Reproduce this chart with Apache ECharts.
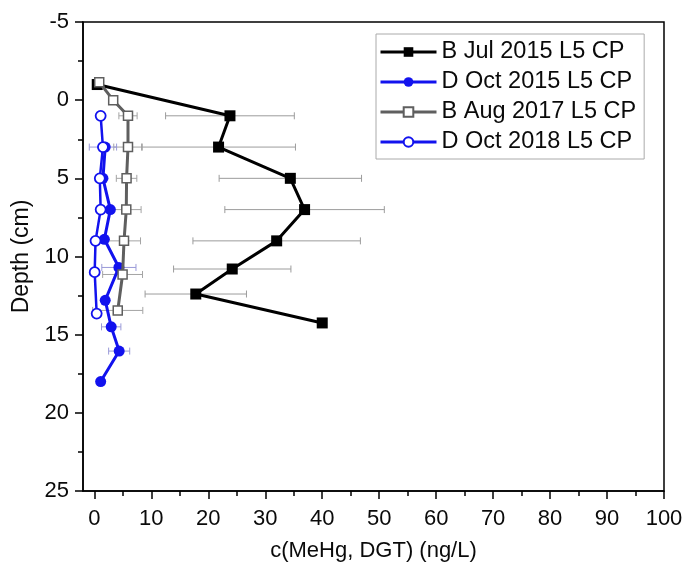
<!DOCTYPE html>
<html>
<head>
<meta charset="utf-8">
<script src="https://cdn.jsdelivr.net/npm/echarts@6/dist/echarts.min.js"></script>
<style>
  html, body { margin: 0; padding: 0; background: #fff; }
  #chart { width: 686px; height: 568px; }
</style>
</head>
<body>
<div id="chart"></div>
<script>
// MeHg concentration (DGT) profiles with depth, four campaigns at L5 CP
const seriesNames = ['B Jul 2015 L5 CP', 'D Oct 2015 L5 CP', 'B Aug 2017 L5 CP', 'D Oct 2018 L5 CP'];

const depthJul15 = [-1.0, 1.0, 3.0, 5.0, 7.0, 9.0, 10.8, 12.4, 14.25];
const cJul15     = [0.5, 23.8, 21.8, 34.4, 36.9, 32.0, 24.2, 17.8, 40.0];
const errJul15   = [0, 11.3, 13.5, 12.5, 14.0, 14.7, 10.3, 8.9, 0];

const depthOct15 = [3.0, 5.0, 7.0, 8.9, 10.7, 12.8, 14.5, 16.05, 18.0];
const cOct15     = [1.9, 1.5, 2.8, 1.75, 4.3, 1.9, 2.95, 4.35, 1.1];
const errOct15   = [0, 0, 0, 0, 3.0, 0, 1.7, 1.85, 0];

const depthAug17 = [-1.15, 0.0, 1.0, 3.0, 5.0, 7.0, 9.0, 11.15, 13.45];
const cAug17     = [0.85, 3.3, 5.9, 5.9, 5.65, 5.6, 5.2, 4.95, 4.1];
const errAug17   = [0, 0, 1.6, 2.5, 1.8, 2.6, 2.9, 3.5, 4.4];

const depthOct18 = [1.0, 3.0, 5.0, 7.0, 9.0, 11.0, 13.65];
const cOct18     = [1.1, 1.5, 0.95, 1.1, 0.2, 0.05, 0.4];
const errOct18   = [0, 2.4, 0, 0, 0, 0, 0];

// Axis ticks
const xTicks      = [0, 10, 20, 30, 40, 50, 60, 70, 80, 90, 100];
const xMinorTicks = [5, 15, 25, 35, 45, 55, 65, 75, 85, 95];
const yTicks      = [-5, 0, 5, 10, 15, 20, 25];

const FONT = "'Liberation Sans', Arial, sans-serif";
const BLUE = '#1212ee';
const GREY = '#5f5f5f';
const TEXT = '#0a0a0a';

function points(xs, ys) {
  return xs.map((x, i) => [x, ys[i]]);
}
function errPoints(xs, ys, es) {
  const out = [];
  xs.forEach((x, i) => { if (es[i] > 0) out.push([x, ys[i], es[i]]); });
  return out;
}

// Horizontal error bars with end caps
function errorBarSeries(data, color) {
  return {
    type: 'custom',
    z: 1,
    silent: true,
    data: data,
    encode: { x: 0, y: 1 },
    renderItem: function (params, api) {
      const x = api.value(0), y = api.value(1), e = api.value(2);
      const p0 = api.coord([x - e, y]);
      const p1 = api.coord([x + e, y]);
      const h = 3.5;
      const style = { stroke: color, lineWidth: 1, fill: null };
      return {
        type: 'group',
        children: [
          { type: 'line', shape: { x1: p0[0], y1: p0[1], x2: p1[0], y2: p1[1] }, style: style },
          { type: 'line', shape: { x1: p0[0], y1: p0[1] - h, x2: p0[0], y2: p0[1] + h }, style: style },
          { type: 'line', shape: { x1: p1[0], y1: p1[1] - h, x2: p1[0], y2: p1[1] + h }, style: style }
        ]
      };
    }
  };
}

const chart = echarts.init(document.getElementById('chart'), null, { renderer: 'canvas' });

const option = {
  backgroundColor: '#fff',
  animation: false,
  textStyle: { fontFamily: FONT },
  grid: {
    left: 83, right: 22, top: 22, bottom: 77,
    show: true, borderColor: '#000', borderWidth: 1.5, backgroundColor: 'transparent'
  },
  legend: {
    orient: 'vertical',
    left: 376, top: 34,
    data: seriesNames,
    backgroundColor: '#fff',
    borderColor: '#aaaaaa',
    borderWidth: 1,
    borderRadius: 0,
    padding: [6, 8, 5, 3],
    itemGap: 6,
    itemWidth: 56,
    itemHeight: 12,
    lineStyle: { width: 3 },
    textStyle: { fontFamily: FONT, fontSize: 23.5, color: TEXT, lineHeight: 24 }
  },
  xAxis: [
    {
      type: 'value', min: -2, max: 100,
      name: 'c(MeHg, DGT) (ng/L)', nameLocation: 'middle', nameGap: 49,
      nameTextStyle: { fontFamily: FONT, fontSize: 22, color: TEXT },
      axisLine: { show: true, onZero: false, lineStyle: { color: '#000', width: 1.5 } },
      axisTick: { show: true, inside: false, length: 8, customValues: xTicks, lineStyle: { color: '#000', width: 1.5 } },
      axisLabel: { show: true, margin: 17, customValues: xTicks, fontFamily: FONT, fontSize: 22, color: TEXT },
      splitLine: { show: false }
    },
    {
      type: 'value', min: -2, max: 100, position: 'bottom',
      axisLine: { show: false, onZero: false },
      axisTick: { show: true, inside: false, length: 5, customValues: xMinorTicks, lineStyle: { color: '#000', width: 1.5 } },
      axisLabel: { show: false },
      splitLine: { show: false }
    }
  ],
  yAxis: {
    type: 'value', min: -5, max: 25, interval: 5, inverse: true,
    name: 'Depth (cm)', nameLocation: 'middle', nameGap: 44,
    nameTextStyle: { fontFamily: FONT, fontSize: 23, color: TEXT },
    axisLine: { show: true, onZero: false, lineStyle: { color: '#000', width: 1.5 } },
    axisTick: { show: true, inside: false, length: 8, lineStyle: { color: '#000', width: 1.5 } },
    minorTick: { show: true, splitNumber: 2, length: 5, lineStyle: { color: '#000', width: 1.5 } },
    axisLabel: {
      margin: 14, fontFamily: FONT, fontSize: 22, color: TEXT,
      formatter: function (v) { return yTicks.indexOf(v) >= 0 ? String(v) : ''; }
    },
    splitLine: { show: false },
    minorSplitLine: { show: false }
  },
  series: [
    errorBarSeries(errPoints(cJul15, depthJul15, errJul15), '#9c9c9c'),
    errorBarSeries(errPoints(cAug17, depthAug17, errAug17), '#a4a4a4'),
    errorBarSeries(errPoints(cOct15, depthOct15, errOct15), '#9a9ad8'),
    errorBarSeries(errPoints(cOct18, depthOct18, errOct18), '#9a9ad8'),
    {
      name: seriesNames[0], type: 'line', z: 3,
      data: points(cJul15, depthJul15),
      symbol: 'rect', symbolSize: 11,
      lineStyle: { color: '#000', width: 3 },
      itemStyle: { color: '#000' }
    },
    {
      name: seriesNames[1], type: 'line', z: 4,
      data: points(cOct15, depthOct15),
      symbol: 'circle', symbolSize: 11,
      lineStyle: { color: BLUE, width: 3 },
      itemStyle: { color: BLUE }
    },
    {
      name: seriesNames[2], type: 'line', z: 5,
      data: points(cAug17, depthAug17),
      symbol: 'rect', symbolSize: 9,
      lineStyle: { color: GREY, width: 3 },
      itemStyle: { color: '#fff', borderColor: GREY, borderWidth: 1.5 }
    },
    {
      name: seriesNames[3], type: 'line', z: 6,
      data: points(cOct18, depthOct18),
      symbol: 'circle', symbolSize: 10,
      lineStyle: { color: BLUE, width: 2.5 },
      itemStyle: { color: '#fff', borderColor: BLUE, borderWidth: 1.8 }
    }
  ]
};

chart.setOption(option);
</script>
</body>
</html>
